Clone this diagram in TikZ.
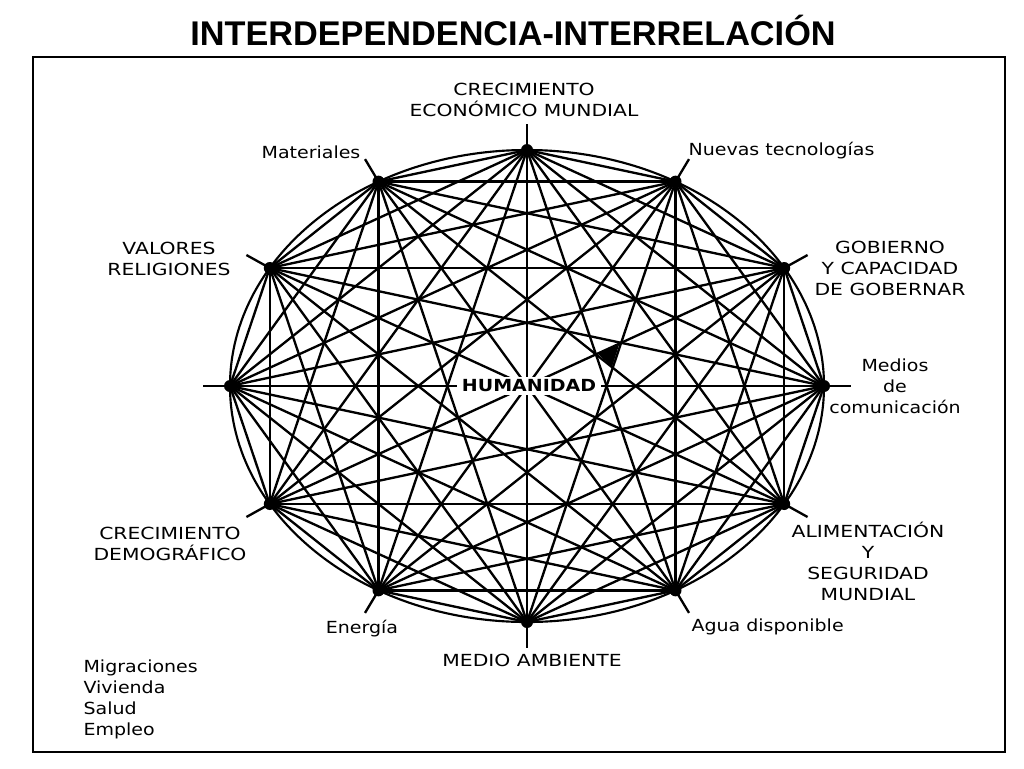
\documentclass[tikz,border=0pt]{standalone}
\usepackage{fontspec}
\setmainfont{DejaVu Sans}
\newfontfamily\capsfont{DejaVu Sans}[FakeStretch=1.22]
\newfontfamily\lowfont{DejaVu Sans}[FakeStretch=1.14]
\newfontfamily\titlefont{Liberation Sans}
\usetikzlibrary{positioning}

\begin{document}
\begin{tikzpicture}[x=0.75pt,y=-0.75pt,
  hub/.style={circle,fill=black,inner sep=0pt,minimum size=9pt},
  link/.style={line width=1.75pt},
  tag/.style={font=\lowfont\fontsize{12.5}{15.8}\selectfont,align=center,inner sep=1pt},
  captag/.style={tag,font=\capsfont\fontsize{12.5}{15.8}\selectfont}]
\useasboundingbox (0,0) rectangle (1024,768);

\node[font=\titlefont\bfseries\fontsize{25.7}{30}\selectfont] (title) at (513,30) {INTERDEPENDENCIA-INTERRELACIÓN};
\draw[line width=1.5pt] (33,57) rectangle (1005,752);
\draw[line width=1.6pt] (527,386) ellipse [x radius=297, y radius=236];

% twelve points on the ellipse, with their outward ticks
\foreach \i in {0,...,11} {
  \node[hub] (p\i) at ({527+297*cos(90-30*\i)},{386-236*sin(90-30*\i)}) {};
  \coordinate (t\i) at ({527+324*cos(90-30*\i)},{386-262*sin(90-30*\i)});
  \draw[link] (p\i.center) -- (t\i);
}
% every point linked to every other one
\foreach \i in {0,...,10} {
  \pgfmathtruncatemacro\k{\i+1}
  \foreach \j in {\k,...,11}
    \draw[link] (p\i.center) -- (p\j.center);
}
\fill (597,353) -- (619,345) -- (612,367) -- cycle;

\node[fill=white,font=\lowfont\bfseries\fontsize{12.5}{15}\selectfont,inner xsep=4pt,inner ysep=2pt] (hum) at (529,386) {HUMANIDAD};

\node[captag] (eco) at (524,100) {CRECIMIENTO\\ECONÓMICO MUNDIAL};
\node[tag] (mat) at (311,152) {Materiales};
\node[tag,anchor=west] (tec) at (687,151) {Nuevas tecnologías};
\node[captag] (val) at (169,259) {VALORES\\RELIGIONES};
\node[captag] (gob) at (890,268) {GOBIERNO\\Y CAPACIDAD\\DE GOBERNAR};
\node[tag] (med) at (895,386) {Medios\\de\\comunicación};
\node[captag] (dem) at (170,544) {CRECIMIENTO\\DEMOGRÁFICO};
\node[captag] (ali) at (868,561) {ALIMENTACIÓN\\Y\\SEGURIDAD\\MUNDIAL};
\node[tag] (ene) at (362,629) {Energía};
\node[tag,anchor=west] (agu) at (690,627) {Agua disponible};
\node[captag] (amb) at (532,660) {MEDIO AMBIENTE};
\node[tag,align=left,anchor=north west] (mig) at (82,658) {Migraciones\\Vivienda\\Salud\\Empleo};
\end{tikzpicture}
\end{document}
